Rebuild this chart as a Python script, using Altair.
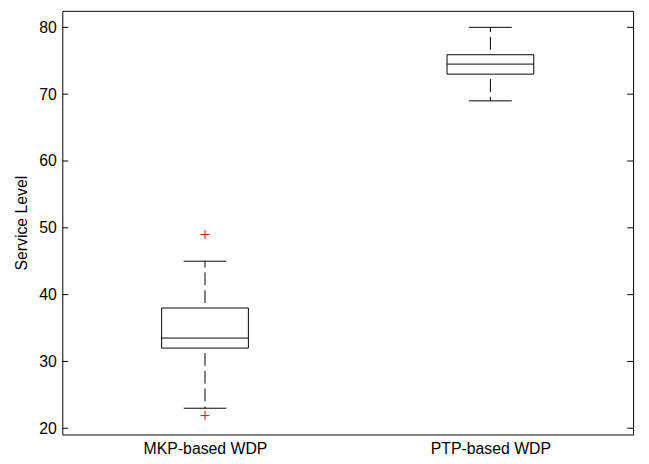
import altair as alt
import pandas as pd

categories = ["MKP-based WDP", "PTP-based WDP"]
positions = [1, 2]
lower_whisker = [23.0, 69.0]
q1 = [32.0, 73.0]
median = [33.5, 74.5]
q3 = [38.0, 75.9]
upper_whisker = [45.0, 80.0]
outlier_pos = [1, 1]
outlier_values = [49.0, 21.9]
y_ticks = [20, 30, 40, 50, 60, 70, 80]

W, H = 578, 429
BOX_HALF = 0.152
CAP_HALF = 0.075
FONT = "Liberation Sans"

df = pd.DataFrame({
    "cat": categories, "pos": positions, "lo": lower_whisker, "q1": q1,
    "med": median, "q3": q3, "hi": upper_whisker,
})
df["bl"] = df["pos"] - BOX_HALF
df["br"] = df["pos"] + BOX_HALF
df["cl"] = df["pos"] - CAP_HALF
df["cr"] = df["pos"] + CAP_HALF

out_df = pd.DataFrame({"pos": outlier_pos, "v": outlier_values})
tick_df = pd.DataFrame({"t": y_ticks})

xscale = alt.Scale(domain=[0.5, 2.5], nice=False, zero=False)
yscale = alt.Scale(domain=[19.07, 82.47], nice=False, zero=False)

label_expr = "datum.value == 1 ? '%s' : '%s'" % (categories[0], categories[1])
xaxis = alt.Axis(values=positions, labelExpr=label_expr, ticks=False, domain=False,
                 grid=False, title=None, labelFont=FONT, labelFontSize=16,
                 labelColor="black", labelPadding=6)
yaxis = alt.Axis(values=y_ticks, ticks=False, domain=False, grid=False,
                 title="Service Level", labelFont=FONT, labelFontSize=16,
                 labelColor="black", labelPadding=6, titleFont=FONT,
                 titleFontSize=16, titleFontWeight="normal", titleColor="black",
                 titlePadding=9)

base = alt.Chart(df)
DASH = [13, 5]

box = base.mark_rect(fill="white", stroke="black", strokeWidth=1).encode(
    x=alt.X("bl:Q", scale=xscale, axis=xaxis),
    x2="br:Q",
    y=alt.Y("q1:Q", scale=yscale, axis=yaxis),
    y2="q3:Q",
)
med = base.mark_rule(color="black", strokeWidth=1).encode(
    x=alt.X("bl:Q", scale=xscale), x2="br:Q", y=alt.Y("med:Q", scale=yscale))
wu = base.mark_rule(color="black", strokeWidth=1, strokeDash=DASH,
                    strokeDashOffset=13).encode(
    x=alt.X("pos:Q", scale=xscale), y=alt.Y("q3:Q", scale=yscale), y2="hi:Q")
wl = base.mark_rule(color="black", strokeWidth=1, strokeDash=DASH,
                    strokeDashOffset=13).encode(
    x=alt.X("pos:Q", scale=xscale), y=alt.Y("q1:Q", scale=yscale), y2="lo:Q")
cu = base.mark_rule(color="black", strokeWidth=1).encode(
    x=alt.X("cl:Q", scale=xscale), x2="cr:Q", y=alt.Y("hi:Q", scale=yscale))
cl = base.mark_rule(color="black", strokeWidth=1).encode(
    x=alt.X("cl:Q", scale=xscale), x2="cr:Q", y=alt.Y("lo:Q", scale=yscale))

outl = alt.Chart(out_df).mark_point(
    shape="M-1,0L1,0M0,-1L0,1", filled=False, color="red", strokeWidth=1, size=81,
    opacity=1,
).encode(x=alt.X("pos:Q", scale=xscale), y=alt.Y("v:Q", scale=yscale))

tl = alt.Chart(tick_df).mark_rule(color="black", strokeWidth=1).encode(
    x=alt.value(0), x2=alt.value(6), y=alt.Y("t:Q", scale=yscale))
tr = alt.Chart(tick_df).mark_rule(color="black", strokeWidth=1).encode(
    x=alt.value(W - 6), x2=alt.value(W), y=alt.Y("t:Q", scale=yscale))

chart = alt.layer(box, wu, wl, cu, cl, med, outl, tl, tr).properties(
    width=W, height=H,
    autosize=alt.AutoSizeParams(type="none"),
    padding={"left": 55, "top": 0, "right": 8, "bottom": 27},
).configure_view(stroke="black", strokeWidth=1)

chart.save("out.html", embed_options={"renderer": "svg", "actions": False})
